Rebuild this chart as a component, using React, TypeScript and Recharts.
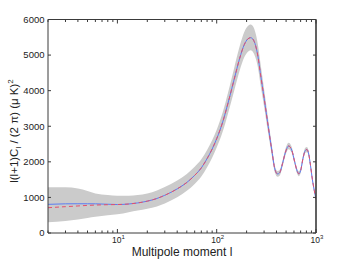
import React from "react";
import {
  ComposedChart,
  Area,
  Line,
  XAxis,
  YAxis,
  ReferenceLine,
} from "recharts";

// ─── Data ────────────────────────────────────────────────────────────────────

const multipoles = [
  2, 3, 4, 5, 6, 8, 10, 13, 16, 20, 25, 30, 40, 50, 60, 70, 80, 90, 100, 115,
  130, 150, 170, 190, 205, 220, 235, 250, 261, 275, 300, 330, 360, 385, 410,
  430, 460, 490, 530, 570, 610, 650, 670, 700, 740, 780, 810, 840, 880, 920,
  960, 1000,
];

const bestFit = [
  805, 820, 822, 822, 820, 808, 800, 815, 845, 895, 970, 1060, 1240, 1420,
  1620, 1830, 2090, 2360, 2650, 3120, 3650, 4320, 4900, 5300, 5450, 5490, 5420,
  5200, 4944, 4500, 3800, 3000, 2300, 1800, 1660, 1690, 1950, 2250, 2445, 2330,
  2000, 1720, 1665, 1750, 2100, 2320, 2345, 2250, 1900, 1500, 1200, 950,
];

const altFit = [
  711, 740, 760, 775, 785, 795, 800, 815, 845, 895, 970, 1060, 1240, 1420,
  1620, 1830, 2090, 2360, 2650, 3120, 3650, 4320, 4900, 5300, 5450, 5490, 5420,
  5200, 4944, 4500, 3800, 3000, 2300, 1800, 1660, 1690, 1950, 2250, 2445, 2330,
  2000, 1720, 1665, 1750, 2100, 2320, 2345, 2250, 1900, 1500, 1200, 950,
];

const bandLow = [
  300, 340, 380, 420, 455, 500, 525, 585, 630, 680, 745, 830, 1005, 1185, 1380,
  1590, 1850, 2115, 2400, 2850, 3360, 4000, 4560, 4945, 5090, 5135, 5060, 4860,
  4630, 4200, 3550, 2800, 2150, 1700, 1580, 1610, 1865, 2160, 2355, 2245, 1925,
  1650, 1595, 1680, 2025, 2245, 2270, 2180, 1840, 1445, 1150, 905,
];

const bandHigh = [
  1285, 1285, 1250, 1180, 1110, 1065, 1045, 1045, 1065, 1110, 1195, 1290, 1475,
  1655, 1860, 2070, 2330, 2605, 2900, 3390, 3940, 4640, 5240, 5655, 5810, 5860,
  5780, 5540, 5260, 4800, 4050, 3200, 2450, 1900, 1740, 1770, 2035, 2340, 2535,
  2415, 2075, 1790, 1735, 1820, 2175, 2395, 2420, 2320, 1960, 1555, 1250, 995,
];

const xTicks = [
  2, 3, 4, 5, 6, 7, 8, 9, 10, 20, 30, 40, 50, 60, 70, 80, 90, 100, 200, 300,
  400, 500, 600, 700, 800, 900, 1000,
];
const yTicks = [0, 1000, 2000, 3000, 4000, 5000, 6000];

const rows = multipoles.map((l, i) => ({
  l,
  fit: bestFit[i],
  alt: altFit[i],
  band: [bandLow[i], bandHigh[i]],
}));

// ─── Styling ─────────────────────────────────────────────────────────────────

const FONT = "'Liberation Sans', Arial, sans-serif";
const AXIS = "#3a3a3a";
const TEXT = "#222";
const BLUE = "#5b7df2";
const RED = "#e6506a";
const BAND = "#cbcbcb";

const isDecade = (v: number) => [1, 10, 100, 1000].includes(v);

// ─── Custom ticks (MATLAB style: drawn inward) ───────────────────────────────

function BottomTick({ x = 0, y = 0, payload }: any) {
  const v = payload?.value;
  const major = isDecade(v);
  return (
    <g>
      <line x1={x} x2={x} y1={y} y2={y - (major ? 4 : 2.5)} stroke={AXIS} />
      {major && (
        <text
          x={x + 1}
          y={y + 10}
          textAnchor="middle"
          fontSize={8.5}
          fontFamily={FONT}
          fill={TEXT}
        >
          10
          <tspan dy={-4} fontSize={6}>
            {Math.round(Math.log10(v))}
          </tspan>
        </text>
      )}
    </g>
  );
}

function TopTick({ x = 0, y = 0, payload }: any) {
  const major = isDecade(payload?.value);
  return <line x1={x} x2={x} y1={y} y2={y + (major ? 4 : 2.5)} stroke={AXIS} />;
}

function LeftTick({ x = 0, y = 0, payload }: any) {
  return (
    <g>
      <line x1={x} x2={x + 3} y1={y} y2={y} stroke={AXIS} />
      <text
        x={x - 3.5}
        y={y}
        dy="0.35em"
        textAnchor="end"
        fontSize={9.5}
        fontFamily={FONT}
        fill={TEXT}
      >
        {payload?.value}
      </text>
    </g>
  );
}

function RightTick({ x = 0, y = 0 }: any) {
  return <line x1={x} x2={x - 3} y1={y} y2={y} stroke={AXIS} />;
}

function YTitle() {
  return (
    <text
      transform="rotate(-90)"
      x={-131}
      y={18}
      textAnchor="middle"
      fontSize={11.5}
      fontFamily={FONT}
      fill={TEXT}
    >
      l(l+1)C
      <tspan dy={3} fontSize={8}>
        l
      </tspan>
      <tspan dy={-3}> / (2 π) (μ K)</tspan>
      <tspan dy={-5} fontSize={8}>
        2
      </tspan>
    </text>
  );
}

function XTitle() {
  return (
    <text
      x={182}
      y={256}
      textAnchor="middle"
      fontSize={12}
      fontFamily={FONT}
      fill={TEXT}
    >
      Multipole moment l
    </text>
  );
}

// ─── Chart ───────────────────────────────────────────────────────────────────

export default function App() {
  return (
    <div
      style={{
        position: "absolute",
        left: 0,
        top: 0,
        width: 349,
        height: 262,
        background: "#fff",
      }}
    >
      <ComposedChart
        width={349}
        height={262}
        data={rows}
        margin={{ top: 14.5, right: 28, bottom: 0, left: 0 }}
      >
        <XAxis
          dataKey="l"
          type="number"
          scale="log"
          domain={[2, 1000]}
          allowDataOverflow
          ticks={xTicks}
          interval={0}
          height={29}
          tickSize={0}
          tickMargin={0}
          stroke={AXIS}
          tick={<BottomTick />}
          label={{ content: () => <XTitle /> }}
        />
        <XAxis
          xAxisId="t"
          dataKey="l"
          orientation="top"
          type="number"
          scale="log"
          domain={[2, 1000]}
          allowDataOverflow
          ticks={xTicks}
          interval={0}
          height={5}
          tickSize={0}
          tickMargin={0}
          stroke={AXIS}
          axisLine={{ stroke: AXIS, strokeWidth: 1 }}
          tick={<TopTick />}
        />
        <YAxis
          type="number"
          domain={[0, 6000]}
          ticks={yTicks}
          interval={0}
          width={48}
          tickSize={0}
          tickMargin={0}
          stroke={AXIS}
          tick={<LeftTick />}
          label={{ content: () => <YTitle /> }}
        />
        <YAxis
          yAxisId="r"
          orientation="right"
          type="number"
          domain={[0, 6000]}
          ticks={yTicks}
          interval={0}
          width={5}
          tickSize={0}
          tickMargin={0}
          stroke={AXIS}
          axisLine={{ stroke: AXIS, strokeWidth: 1 }}
          tick={<RightTick />}
        />
        <Area
          dataKey="band"
          type="monotone"
          stroke="none"
          fill={BAND}
          fillOpacity={1}
          activeDot={false}
          isAnimationActive={false}
        />
        {/* invisible series bound to the mirrored top/right axes */}
        <Line
          xAxisId="t"
          yAxisId="r"
          dataKey="fit"
          stroke="none"
          dot={false}
          activeDot={false}
          isAnimationActive={false}
        />
        <Line
          dataKey="fit"
          type="monotone"
          stroke={BLUE}
          strokeWidth={1}
          dot={false}
          isAnimationActive={false}
        />
        <Line
          dataKey="alt"
          type="monotone"
          stroke={RED}
          strokeWidth={1}
          strokeDasharray="4 3"
          dot={false}
          isAnimationActive={false}
        />
        <ReferenceLine y={6000} stroke={AXIS} strokeWidth={1.2} ifOverflow="visible" />
        <ReferenceLine x={1000} stroke={AXIS} strokeWidth={1.2} ifOverflow="visible" />
      </ComposedChart>
    </div>
  );
}
